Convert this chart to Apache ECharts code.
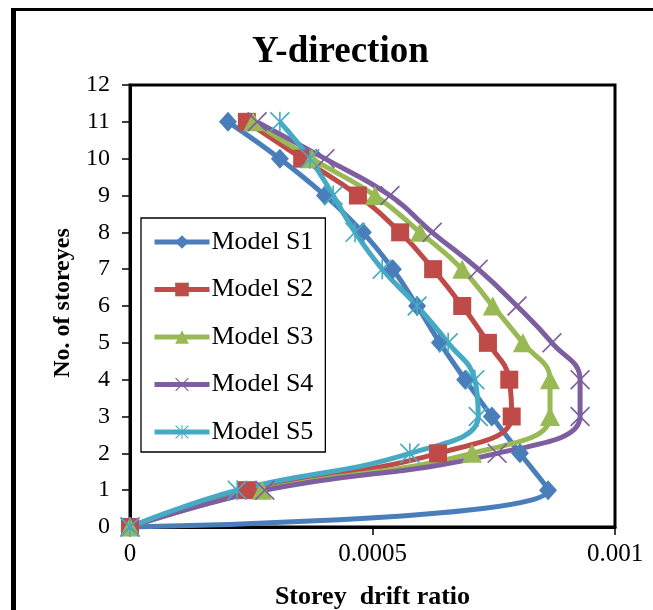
<!DOCTYPE html>
<html>
<head>
<meta charset="utf-8">
<script src="https://cdn.jsdelivr.net/npm/echarts@6/dist/echarts.min.js"></script>
<style>html,body{margin:0;padding:0;background:#fff;}#c{width:653px;height:610px;}</style>
</head>
<body>
<div id="c"></div>
<script>
var storeys = [0, 1, 2, 3, 4, 5, 6, 7, 8, 9, 10, 11];
var modelS1 = [0, 0.000862, 0.000804, 0.000746, 0.000691, 0.000639, 0.000592, 0.000542, 0.000480, 0.000402, 0.000309, 0.000202];
var modelS2 = [0, 0.000241, 0.000635, 0.000787, 0.000782, 0.000738, 0.000685, 0.000625, 0.000557, 0.000470, 0.000355, 0.000241];
var modelS3 = [0, 0.000272, 0.000705, 0.000866, 0.000866, 0.000810, 0.000748, 0.000685, 0.000598, 0.000505, 0.000375, 0.000254];
var modelS4 = [0, 0.000278, 0.000757, 0.000928, 0.000928, 0.000870, 0.000798, 0.000718, 0.000623, 0.000536, 0.000402, 0.000262];
var modelS5 = [0, 0.000221, 0.000577, 0.000718, 0.000711, 0.000656, 0.000592, 0.000520, 0.000464, 0.000419, 0.000371, 0.000309];
var seriesNames = ['Model S1', 'Model S2', 'Model S3', 'Model S4', 'Model S5'];
var xTickValues = [0, 0.0005, 0.001];
var xTickLabels = ['0', '0.0005', '0.001'];

var FONT = '"Liberation Serif", "Times New Roman", serif';
var colors = ['#4A7EBB', '#BE4B48', '#98B954', '#7D5FA0', '#46AAC5'];
var xPath = 'path://M0,1.2 L1.2,0 L10,8.8 L18.8,0 L20,1.2 L11.2,10 L20,18.8 L18.8,20 L10,11.2 L1.2,20 L0,18.8 L8.8,10 Z';
var starPath = 'path://M0,1.2 L1.2,0 L10,8.8 L18.8,0 L20,1.2 L11.2,10 L20,18.8 L18.8,20 L10,11.2 L1.2,20 L0,18.8 L8.8,10 Z M9.2,0 L10.8,0 L10.8,20 L9.2,20 Z';
var symbols = ['diamond', 'rect', 'triangle', xPath, starPath];
var sizes = [[18, 20], 18, [20, 19], 20, 20];
var all = [modelS1, modelS2, modelS3, modelS4, modelS5];

var series = all.map(function (vals, k) {
  return {
    name: seriesNames[k],
    type: 'line',
    smooth: 0.45,
    clip: false,
    data: storeys.map(function (s, i) { return [vals[i], s]; }),
    symbol: symbols[k],
    symbolSize: sizes[k],
    showAllSymbol: true,
    lineStyle: { color: colors[k], width: 5 },
    itemStyle: { color: colors[k], borderColor: colors[k], borderWidth: 0 },
    emphasis: { disabled: true }
  };
});

var chart = echarts.init(document.getElementById('c'), null, { renderer: 'canvas' });
chart.setOption({
  animation: false,
  backgroundColor: '#fff',
  title: {
    text: 'Y-direction',
    left: 247,
    top: 29,
    textStyle: { fontFamily: FONT, fontSize: 37, fontWeight: 'bold', color: '#000' }
  },
  graphic: [
    { type: 'line', shape: { x1: 13.5, y1: 8, x2: 13.5, y2: 620 }, style: { stroke: '#000', lineWidth: 5 } },
    { type: 'line', shape: { x1: 11, y1: 9.5, x2: 660, y2: 9.5 }, style: { stroke: '#000', lineWidth: 3 } }
  ],
  legend: {
    orient: 'vertical',
    left: 141,
    top: 218,
    width: 183,
    itemWidth: 55,
    itemHeight: 17,
    itemGap: 21.5,
    padding: [11, 12, 7, 11],
    borderColor: '#000',
    borderWidth: 1.3,
    backgroundColor: '#fff',
    lineStyle: { width: 5 },
    textStyle: { fontFamily: FONT, fontSize: 26, color: '#000', padding: [0, 0, 0, -3] },
    data: seriesNames
  },
  grid: {
    left: 130, right: 38, top: 85, bottom: 83,
    outerBoundsMode: 'none',
    containLabel: false,
    show: true, borderColor: '#000', borderWidth: 3, backgroundColor: 'transparent'
  },
  xAxis: {
    type: 'value',
    min: 0, max: 0.001, interval: 0.0005,
    name: 'Storey  drift ratio',
    nameLocation: 'middle',
    nameGap: 57,
    nameTextStyle: { fontFamily: FONT, fontSize: 26, fontWeight: 'bold', color: '#000' },
    axisLine: { show: true, lineStyle: { color: '#000', width: 3 } },
    axisTick: { show: true, inside: false, length: 8, lineStyle: { color: '#000', width: 1.5 } },
    splitLine: { show: false },
    axisLabel: {
      margin: 15,
      fontFamily: FONT, fontSize: 25, color: '#000',
      formatter: function (v) {
        for (var i = 0; i < xTickValues.length; i++) {
          if (Math.abs(v - xTickValues[i]) < 1e-9) return xTickLabels[i];
        }
        return '';
      }
    }
  },
  yAxis: {
    type: 'value',
    min: 0, max: 12, interval: 1,
    name: 'No. of storeyes',
    nameLocation: 'middle',
    nameGap: 55,
    nameTextStyle: { fontFamily: FONT, fontSize: 24, fontWeight: 'bold', color: '#000', padding: [0, 0, 0, 6] },
    axisLine: { show: true, lineStyle: { color: '#000', width: 3 } },
    axisTick: { show: true, inside: false, length: 8, lineStyle: { color: '#000', width: 1.5 } },
    splitLine: { show: false },
    axisLabel: { margin: 20, fontFamily: FONT, fontSize: 24, color: '#000' }
  },
  series: series
});
</script>
</body>
</html>
